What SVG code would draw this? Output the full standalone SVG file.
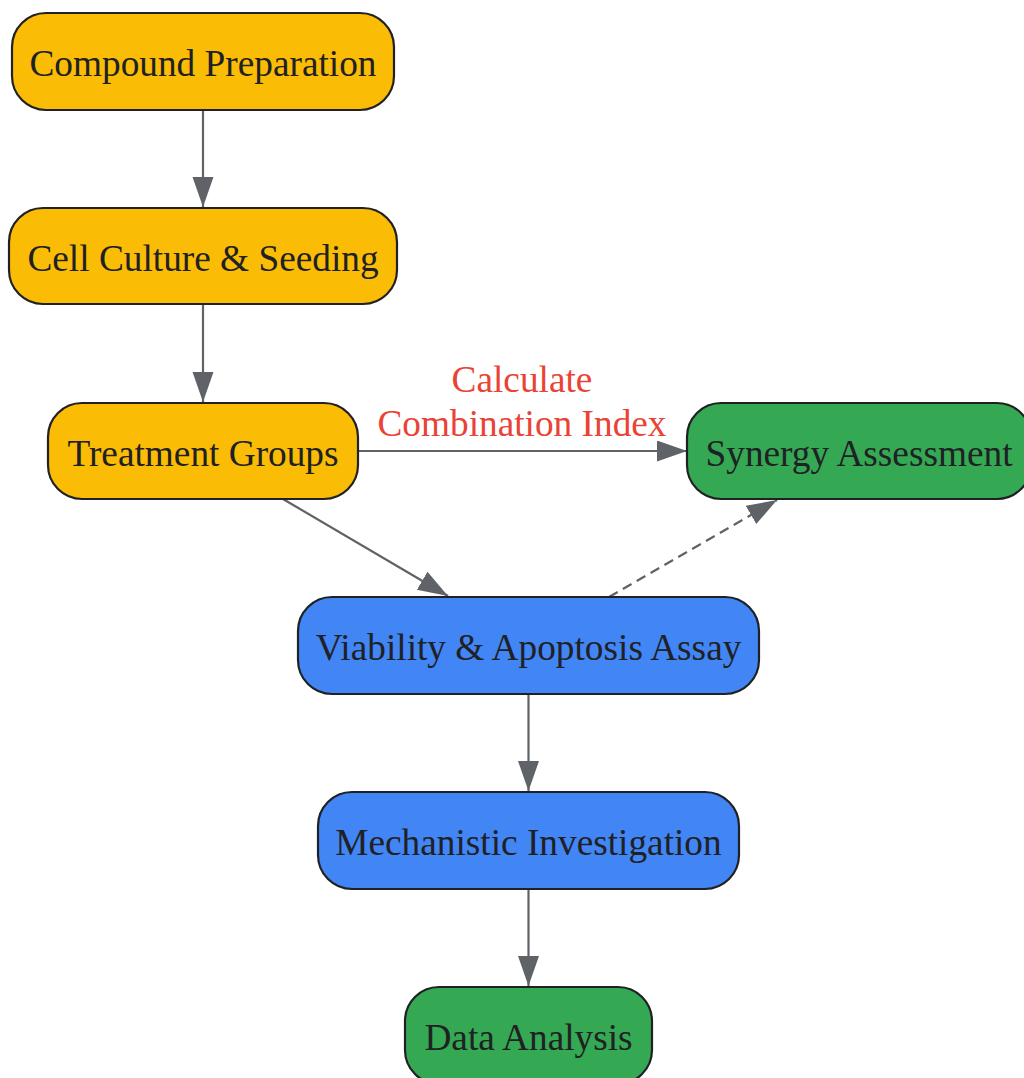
<svg xmlns="http://www.w3.org/2000/svg" width="1024" height="1078" viewBox="0 0 1024 1078">
<defs>
<style>
.node rect{stroke:#202124;stroke-width:2.2}
.node text{font-family:"Liberation Serif","Times New Roman",serif;font-size:37.3px;fill:#202124;text-anchor:middle}
.y rect{fill:#FBBC05}
.b rect{fill:#4285F4}
.g rect{fill:#34A853}
.edge{stroke:#5F6368;stroke-width:2.2;fill:none}
.dash{stroke-dasharray:10 6}
.lbl{font-family:"Liberation Serif","Times New Roman",serif;font-size:37.3px;fill:#EA4335;text-anchor:middle}
</style>
<marker id="arr" markerUnits="userSpaceOnUse" markerWidth="31" markerHeight="22" refX="30" refY="10.5" orient="auto">
<path d="M0,0 L30,10.5 L0,21 z" fill="#5F6368"/>
</marker>
</defs>
<rect width="1024" height="1078" fill="#ffffff"/>
<g id="connectors">
<line class="edge" x1="203" y1="110" x2="203" y2="207" marker-end="url(#arr)"/>
<line class="edge" x1="203" y1="304" x2="203" y2="402" marker-end="url(#arr)"/>
<line class="edge" x1="358" y1="451" x2="687" y2="451" marker-end="url(#arr)"/>
<line class="edge" x1="283" y1="499" x2="448" y2="596" marker-end="url(#arr)"/>
<line class="edge dash" x1="609" y1="597" x2="777" y2="500" marker-end="url(#arr)"/>
<line class="edge" x1="528.5" y1="694" x2="528.5" y2="791" marker-end="url(#arr)"/>
<line class="edge" x1="528.5" y1="889" x2="528.5" y2="986" marker-end="url(#arr)"/>
<text class="lbl" x="522" y="392">Calculate</text>
<text class="lbl" x="522" y="436">Combination Index</text>
</g>
<g id="compound" class="node y">
<rect x="12" y="13" width="382" height="97" rx="34"/>
<text x="203" y="76">Compound Preparation</text>
</g>
<g id="cell" class="node y">
<rect x="9" y="208" width="388" height="96" rx="34"/>
<text x="203" y="271">Cell Culture &amp; Seeding</text>
</g>
<g id="treatment" class="node y">
<rect x="48" y="403" width="310" height="96" rx="34"/>
<text x="203" y="466">Treatment Groups</text>
</g>
<g id="synergy" class="node g">
<rect x="687" y="403" width="344" height="96" rx="34"/>
<text x="859" y="466">Synergy Assessment</text>
</g>
<g id="viability" class="node b">
<rect x="298" y="597" width="461" height="97" rx="34"/>
<text x="528.5" y="660">Viability &amp; Apoptosis Assay</text>
</g>
<g id="mechanistic" class="node b">
<rect x="318" y="792" width="421" height="97" rx="34"/>
<text x="528.5" y="855">Mechanistic Investigation</text>
</g>
<g id="data" class="node g">
<rect x="405" y="987" width="247" height="97" rx="34"/>
<text x="528.5" y="1050">Data Analysis</text>
</g>
</svg>
